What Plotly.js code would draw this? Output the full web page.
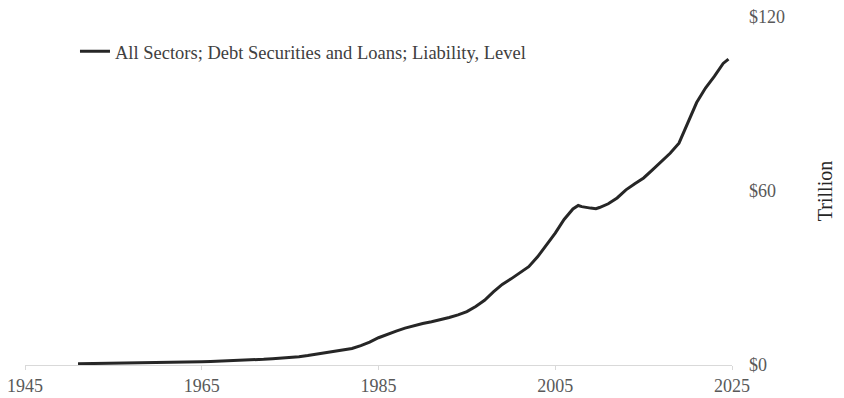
<!DOCTYPE html>
<html>
<head>
<meta charset="utf-8">
<script src="https://cdn.plot.ly/plotly-3.0.1.min.js"></script>
<style>html,body{margin:0;padding:0;background:#fff;}#chart{width:844px;height:398px;}</style>
</head>
<body>
<div id="chart"></div>
<script>
const seriesName = "All Sectors; Debt Securities and Loans; Liability, Level";
const years = [1951,1952,1953,1954,1955,1956,1957,1958,1959,1960,1961,1962,1963,1964,1965,1966,1967,1968,1969,1970,
  1971,1972,1973,1974,1975,1976,1977,1978,1979,1980,1981,1982,1983,1984,1985,1986,1987,1988,1989,1990,
  1991,1992,1993,1994,1995,1996,1997,1998,1999,2000,2001,2002,2003,2004,2005,2006,2007,2007.6,2008,2009,2009.6,
  2010,2011,2012,2013,2014,2015,2016,2017,2018,2019,2020,2021,2022,2023,2024,2024.6];
const debtTrillions = [0.42,0.46,0.49,0.52,0.57,0.61,0.65,0.70,0.76,0.80,0.86,0.93,1.00,1.08,1.16,1.24,1.33,1.43,1.53,1.63,
  1.78,1.96,2.16,2.36,2.58,2.88,3.25,3.70,4.15,4.60,5.10,5.70,6.70,7.90,9.40,10.6,11.7,12.7,13.6,14.3,
  14.9,15.6,16.4,17.3,18.4,20.2,22.3,25.2,27.8,29.7,31.9,33.9,37.3,41.5,45.5,50.2,53.8,55.0,54.6,54.1,53.9,
  54.3,55.6,57.6,60.4,62.5,64.5,67.3,70.0,73.0,76.5,83.5,90.5,95.5,99.5,104.0,105.5];
const xTicks = [1945,1965,1985,2005,2025];
const yTicks = [0,60,120];
const yTickText = ["$0","$60","$120"];

const fontFam = "Liberation Serif";
Plotly.newPlot("chart", [{
  x: years, y: debtTrillions, type: "scatter", mode: "lines", name: seriesName,
  line: {color: "#262626", width: 3}
}], {
  width: 844, height: 398,
  margin: {l: 25, r: 112, t: 17, b: 33, pad: 0},
  paper_bgcolor: "#fff", plot_bgcolor: "#fff",
  font: {family: fontFam, size: 18, color: "#595959"},
  showlegend: true,
  legend: {x: 0.0707, y: 0.9, xanchor: "left", yanchor: "middle", bgcolor: "rgba(0,0,0,0)",
    font: {family: fontFam, size: 18.5, color: "#404040"}, itemwidth: 30},
  xaxis: {range: [1945, 2025], tickvals: xTicks, ticktext: xTicks.map(String),
    showgrid: false, zeroline: false, showline: true, linecolor: "#d9d9d9", linewidth: 1,
    ticks: "outside", ticklen: 4, tickcolor: "#d9d9d9", tickfont: {family: fontFam, size: 18, color: "#595959"}},
  yaxis: {range: [0, 120], side: "right", tickvals: yTicks, ticktext: yTickText,
    showgrid: false, zeroline: false, showline: false, ticks: "", ticklabelstandoff: 16,
    tickfont: {family: fontFam, size: 18, color: "#595959"},
    title: {text: "Trillion", font: {family: fontFam, size: 20, color: "#262626"}, standoff: 33}}
}, {displayModeBar: false, staticPlot: true});
</script>
</body>
</html>
